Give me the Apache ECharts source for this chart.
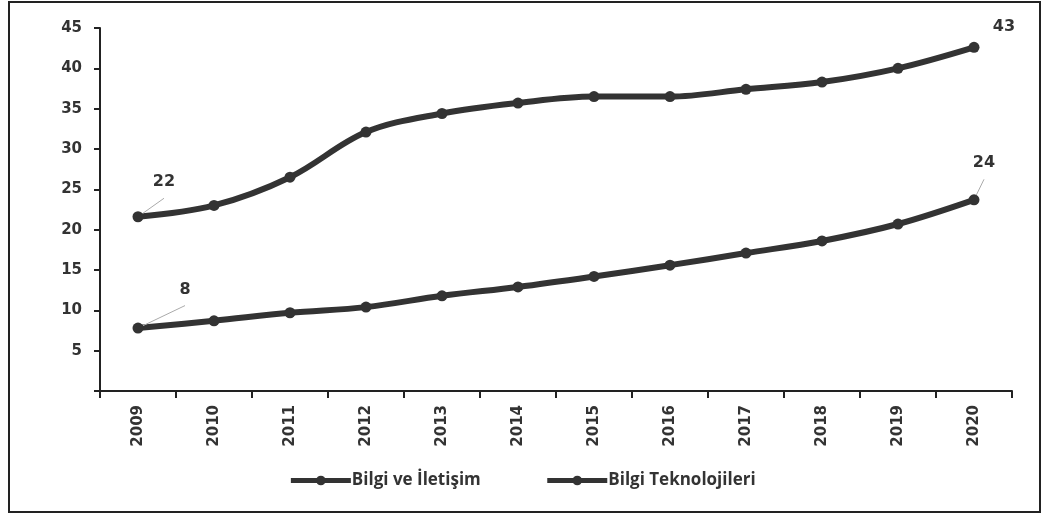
<!DOCTYPE html>
<html>
<head>
<meta charset="utf-8">
<script src="https://cdn.jsdelivr.net/npm/echarts@6/dist/echarts.min.js"></script>
<style>
html, body { margin: 0; padding: 0; background: #fff; }
#chart { width: 1044px; height: 520px; }
</style>
</head>
<body>
<div id="chart"></div>
<script>
// yıllar
var years = ["2009", "2010", "2011", "2012", "2013", "2014", "2015", "2016", "2017", "2018", "2019", "2020"];
// Bilgi ve İletişim
var bilgiIletisim = [21.6, 23.0, 26.5, 32.1, 34.4, 35.7, 36.5, 36.5, 37.4, 38.3, 40.0, 42.6];
// Bilgi Teknolojileri
var bilgiTeknoloji = [7.8, 8.7, 9.7, 10.4, 11.8, 12.9, 14.2, 15.6, 17.1, 18.6, 20.7, 23.7];
// etiketler (ilk ve son yıl)
var iletisimLabels = ["22", "43"];
var teknolojiLabels = ["8", "24"];

var lineColor = "#333333";
var labelFont = "DejaVu Sans";

function buildData(values, labels, offsets, leaders) {
    return values.map(function (v, i) {
        var item = { value: v };
        if (i === 0 || i === values.length - 1) {
            var k = i === 0 ? 0 : 1;
            item.label = {
                show: true,
                formatter: labels[k],
                offset: offsets[k]
            };
            item.labelLine = { show: leaders[k] };
        }
        return item;
    });
}

var chart = echarts.init(document.getElementById("chart"));
chart.setOption({
    animation: false,
    graphic: [{
        type: "rect",
        shape: { x: 9, y: 2, width: 1031, height: 510 },
        style: { fill: "none", stroke: "#222", lineWidth: 2 },
        silent: true
    }],
    grid: { left: 100, right: 32, top: 28, bottom: 129 },
    legend: {
        bottom: 26,
        left: "center",
        itemWidth: 60,
        itemHeight: 12,
        itemGap: 64,
        lineStyle: { width: 5 },
        textStyle: { fontFamily: "Open Sans", fontWeight: "bold", fontSize: 17, color: "#333", padding: [0, 0, 0, -4] },
        data: ["Bilgi ve İletişim", "Bilgi Teknolojileri"]
    },
    xAxis: {
        type: "category",
        data: years,
        boundaryGap: true,
        axisLine: { lineStyle: { color: "#222", width: 2 } },
        axisTick: { show: true, length: 7, lineStyle: { color: "#222", width: 2 } },
        axisLabel: {
            rotate: 90, margin: 14, color: "#333",
            fontFamily: labelFont, fontWeight: "bold", fontSize: 15
        }
    },
    yAxis: {
        type: "value",
        min: 0,
        max: 45,
        interval: 5,
        splitLine: { show: false },
        axisLine: { show: true, lineStyle: { color: "#222", width: 2 } },
        axisTick: { show: true, length: 6, lineStyle: { color: "#222", width: 2 } },
        axisLabel: {
            margin: 18, color: "#333",
            fontFamily: labelFont, fontWeight: "bold", fontSize: 15,
            formatter: function (v) { return v === 0 ? "" : v; }
        }
    },
    series: [{
        name: "Bilgi ve İletişim",
        type: "line",
        smooth: 0.35,
        symbol: "circle",
        symbolSize: 11,
        lineStyle: { color: lineColor, width: 6 },
        itemStyle: { color: lineColor },
        label: { color: "#333", fontFamily: labelFont, fontWeight: "bold", fontSize: 16, position: "top" },
        labelLine: { show: true, lineStyle: { color: "#aaa", width: 1 } },
        data: buildData(bilgiIletisim, iletisimLabels, [[26, -16], [30, -2]], [true, false])
    }, {
        name: "Bilgi Teknolojileri",
        type: "line",
        smooth: 0.35,
        symbol: "circle",
        symbolSize: 11,
        lineStyle: { color: lineColor, width: 6 },
        itemStyle: { color: lineColor },
        label: { color: "#333", fontFamily: labelFont, fontWeight: "bold", fontSize: 16, position: "top" },
        labelLine: { show: true, lineStyle: { color: "#aaa", width: 1 } },
        data: buildData(bilgiTeknoloji, teknolojiLabels, [[47, -20], [10, -18]], [true, true])
    }]
});
</script>
</body>
</html>
